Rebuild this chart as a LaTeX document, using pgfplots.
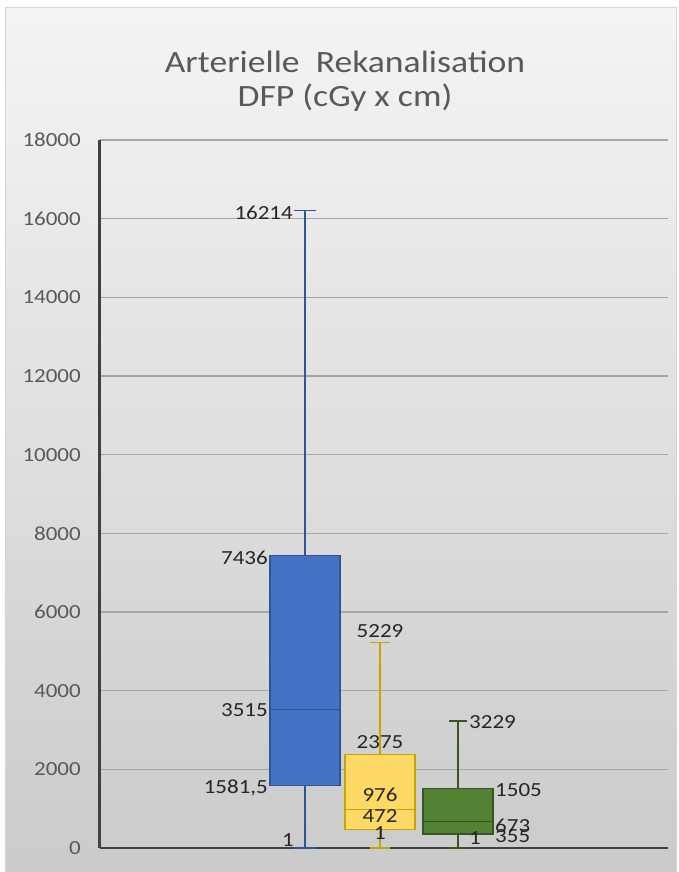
\documentclass[border=0pt]{standalone}
\usepackage{pgfplots}
\pgfplotsset{compat=1.18}
\usepgfplotslibrary{statistics}
\usepackage{fontspec}
\setmainfont{Carlito}[FakeStretch=1.15]
\definecolor{bgTop}{HTML}{F4F4F4}
\definecolor{bgBot}{HTML}{CACACA}
\definecolor{frameC}{HTML}{D4D4D4}
\definecolor{gridC}{HTML}{A6A6A6}
\definecolor{tickC}{HTML}{595959}
\definecolor{axisC}{HTML}{404040}
\definecolor{lblC}{HTML}{262626}
\definecolor{blueF}{HTML}{4472C4}
\definecolor{blueD}{HTML}{2F5597}
\definecolor{yelF}{HTML}{FFD966}
\definecolor{yelD}{HTML}{C9A400}
\definecolor{grnF}{HTML}{548235}
\definecolor{grnD}{HTML}{375623}
\newcommand{\lbl}{\fontsize{20}{24}\selectfont}
\begin{document}
\begin{tikzpicture}[x=1pt,y=1pt]
\path[use as bounding box] (-100,-24) rectangle (578,848);
\shade[top color=bgTop, bottom color=bgBot, draw=frameC, line width=1pt] (-94,-30) rectangle (576,840);
\begin{axis}[
  scale only axis,
  width=568pt, height=708pt,
  xmin=0, xmax=568, ymin=0, ymax=18000,
  xtick=\empty,
  ytick={0,2000,...,18000},
  scaled y ticks=false,
  axis lines*=left,
  axis line style={draw=none},
  ymajorgrids,
  major grid style={color=gridC, line width=1.2pt},
  major tick length=0pt,
  boxplot/draw direction=y,
  /pgf/number format/assume math mode=true,
  /pgf/number format/1000 sep={},
  yticklabel style={anchor=east, inner sep=0pt, xshift=-19pt, font=\lbl, text=tickC},
  clip=false,
]
\draw[axisC, line width=1.2pt] (axis cs:0,0) -- (axis cs:568,0);
\draw[axisC, line width=3pt] (axis cs:0,0) -- (axis cs:0,18000);
% Blue
\addplot+[solid, mark=none, draw=blueD, fill=blueF, line width=1.2pt,
  boxplot prepared={draw position=205, lower whisker=1, lower quartile=1581.5,
  median=3515, upper quartile=7436, upper whisker=16214, box extend=70, whisker extend=22}]
  coordinates {};
% Yellow
\addplot+[solid, mark=none, draw=yelD, fill=yelF, line width=1.2pt,
  boxplot prepared={draw position=280, lower whisker=1, lower quartile=472,
  median=976, upper quartile=2375, upper whisker=5229, box extend=70, whisker extend=20}]
  coordinates {};
% Green
\addplot+[solid, mark=none, draw=grnD, fill=grnF, line width=1.2pt,
  boxplot prepared={draw position=358, lower whisker=1, lower quartile=355,
  median=673, upper quartile=1505, upper whisker=3229, box extend=70, whisker extend=18}]
  coordinates {};
% Labels blue
\node[anchor=east, inner sep=0pt, font=\lbl, text=lblC] at (axis cs:193,16160) {16214};
\node[anchor=east, inner sep=0pt, font=\lbl, text=lblC] at (axis cs:168,7373) {7436};
\node[anchor=east, inner sep=0pt, font=\lbl, text=lblC] at (axis cs:168,3508) {3515};
\node[anchor=east, inner sep=0pt, font=\lbl, text=lblC] at (axis cs:168,1525) {1581,5};
\node[inner sep=0pt, font=\lbl, text=lblC] at (axis cs:188,203) {1};
% Labels yellow
\node[inner sep=0pt, font=\lbl, text=lblC] at (axis cs:280,5517) {5229};
\node[inner sep=0pt, font=\lbl, text=lblC] at (axis cs:280,2695) {2375};
\node[inner sep=0pt, font=\lbl, text=lblC] at (axis cs:280,1347) {976};
\node[inner sep=0pt, font=\lbl, text=lblC] at (axis cs:280,813) {472};
\node[inner sep=0pt, font=\lbl, text=lblC] at (axis cs:280,381) {1};
% Labels green
\node[anchor=west, inner sep=0pt, font=\lbl, text=lblC] at (axis cs:369,3203) {3229};
\node[anchor=west, inner sep=0pt, font=\lbl, text=lblC] at (axis cs:395,1474) {1505};
\node[anchor=west, inner sep=0pt, font=\lbl, text=lblC] at (axis cs:395,559) {673};
\node[anchor=west, inner sep=0pt, font=\lbl, text=lblC] at (axis cs:395,305) {355};
\node[inner sep=0pt, font=\lbl, text=lblC] at (axis cs:375,254) {1};
\end{axis}
\node[anchor=base, text=tickC, font=\fontsize{31}{36}\selectfont] at (245,775) {Arterielle\ \ Rekanalisation};
\node[anchor=base, text=tickC, font=\fontsize{31}{36}\selectfont] at (245,741) {DFP (cGy x cm)};
\end{tikzpicture}
\end{document}
